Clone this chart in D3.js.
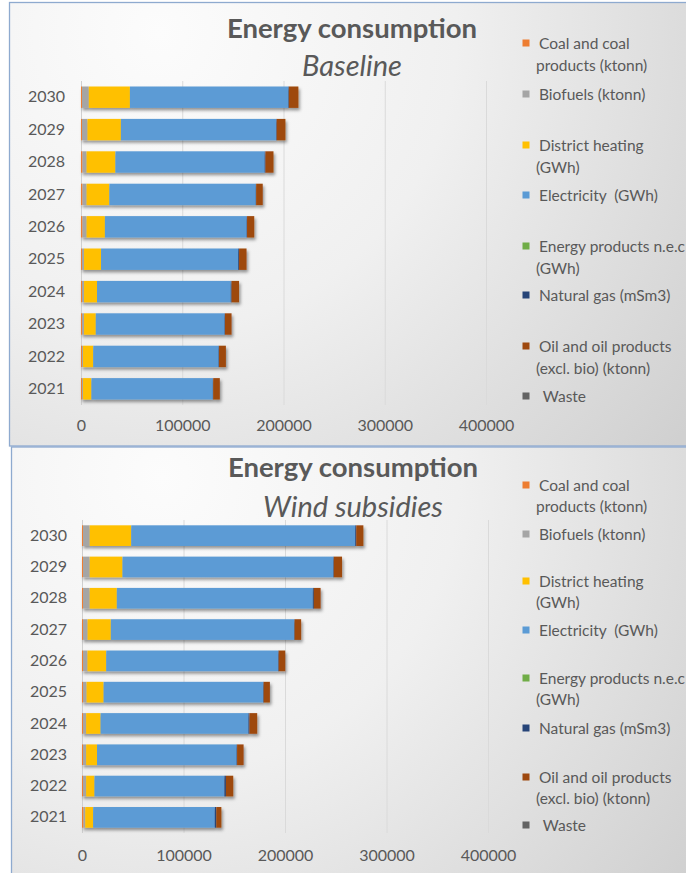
<!DOCTYPE html>
<html>
<head>
<meta charset="utf-8">
<script src="https://cdn.jsdelivr.net/npm/d3@7"></script>
<style>
  body { margin: 0; background: #ffffff; }
  svg { display: block; }
</style>
</head>
<body>
<svg id="chart" width="686" height="873"></svg>
<script>
// Years on the category axis
const years = ["2021", "2022", "2023", "2024", "2025", "2026", "2027", "2028", "2029", "2030"];

// Energy carriers, in stacking order
const seriesNames = [
  "Coal and coal products (ktonn)",
  "Biofuels (ktonn)",
  "District heating (GWh)",
  "Electricity  (GWh)",
  "Energy products n.e.c (GWh)",
  "Natural gas (mSm3)",
  "Oil and oil products (excl. bio) (ktonn)",
  "Waste"
];
const seriesColors = ["#ED7D31", "#A5A5A5", "#FFC000", "#5B9BD5", "#70AD47", "#264478", "#9E480E", "#636363"];

// Legend text, wrapped the way the legend shows it
const legendLines = [
  ["Coal and coal", "products (ktonn)"],
  ["Biofuels (ktonn)"],
  ["District heating", "(GWh)"],
  ["Electricity  (GWh)"],
  ["Energy products n.e.c", "(GWh)"],
  ["Natural gas (mSm3)"],
  ["Oil and oil products", "(excl. bio) (ktonn)"],
  [" Waste"]
];

// Value axis ticks
const xTicks = [0, 100000, 200000, 300000, 400000];

// Baseline scenario, 2021..2030
const baseCoal        = [1000, 1000, 1000, 1000, 1000, 1500, 1500, 1500, 1000, 1000];
const baseBiofuels    = [1000, 1000, 2000, 2000, 2000, 4000, 4000, 4000, 5400, 6700];
const baseDistrict    = [8300, 10100, 11600, 12800, 16800, 18100, 22500, 28500, 33000, 40600];
const baseElectricity = [119900, 123800, 127200, 132100, 135500, 140000, 144600, 147400, 153400, 156500];
const baseEnergyNec   = [0, 0, 0, 0, 0, 0, 0, 0, 0, 0];
const baseNaturalGas  = [400, 400, 400, 800, 800, 400, 400, 800, 500, 500];
const baseOil         = [6500, 6800, 6500, 7400, 7400, 7100, 6500, 7900, 8600, 9400];
const baseWaste       = [0, 0, 0, 0, 0, 0, 0, 0, 0, 0];

// Wind subsidies scenario, 2021..2030
const windCoal        = [1500, 1000, 1000, 1000, 1000, 1000, 1000, 1000, 1000, 1000];
const windBiofuels    = [1700, 3100, 3100, 3100, 3500, 4400, 4500, 6600, 6600, 6600];
const windDistrict    = [7800, 8200, 10700, 14200, 16800, 18500, 22900, 26700, 32300, 40900];
const windElectricity = [119800, 128000, 137500, 145700, 157200, 169400, 180600, 193100, 207700, 220700];
const windEnergyNec   = [0, 0, 0, 0, 0, 0, 0, 0, 0, 0];
const windNaturalGas  = [1500, 1500, 500, 1000, 500, 500, 500, 1000, 500, 1000];
const windOil         = [5000, 7200, 6400, 7600, 6100, 6400, 6400, 6700, 8100, 7000];
const windWaste       = [0, 0, 0, 0, 0, 0, 0, 0, 0, 0];

const baseSeries = [baseCoal, baseBiofuels, baseDistrict, baseElectricity, baseEnergyNec, baseNaturalGas, baseOil, baseWaste];
const windSeries = [windCoal, windBiofuels, windDistrict, windElectricity, windEnergyNec, windNaturalGas, windOil, windWaste];

const FONT = "Lato, 'Open Sans', sans-serif";
const TEXT = "#595959";

const svg = d3.select("#chart");
const defs = svg.append("defs");

// Soft outer shadow under each bar
const shadow = defs.append("filter").attr("id", "barShadow")
  .attr("x", "-10%").attr("y", "-40%").attr("width", "130%").attr("height", "200%");
shadow.append("feDropShadow")
  .attr("dx", 1.5).attr("dy", 2.5).attr("stdDeviation", 1.8)
  .attr("flood-color", "#000").attr("flood-opacity", 0.4);

function makeGradient(id, cx, cy, r) {
  const g = defs.append("radialGradient").attr("id", id)
    .attr("gradientUnits", "userSpaceOnUse")
    .attr("cx", cx).attr("cy", cy).attr("r", r);
  g.append("stop").attr("offset", "0%").attr("stop-color", "#fcfcfc");
  g.append("stop").attr("offset", "45%").attr("stop-color", "#f0f0f0");
  g.append("stop").attr("offset", "100%").attr("stop-color", "#d0d0d0");
}

function drawPanel(cfg) {
  const panel = svg.append("g");
  makeGradient(cfg.gradId, cfg.frame.x + 150, cfg.frame.y + 30, 660);

  panel.append("rect")
    .attr("x", cfg.frame.x).attr("y", cfg.frame.y)
    .attr("width", cfg.frame.w).attr("height", cfg.frame.h)
    .attr("fill", `url(#${cfg.gradId})`)
    .attr("stroke", "#8eaacf").attr("stroke-width", 1.3);

  // Titles
  panel.append("text")
    .attr("x", cfg.titleX).attr("y", cfg.titleY)
    .attr("text-anchor", "middle")
    .attr("font-family", FONT).attr("font-weight", 700).attr("font-size", 27.5)
    .attr("fill", TEXT)
    .text("Energy consumption");
  panel.append("text")
    .attr("x", cfg.titleX).attr("y", cfg.subY)
    .attr("text-anchor", "middle")
    .attr("font-family", FONT).attr("font-style", "italic").attr("font-size", 29)
    .attr("fill", TEXT)
    .text(cfg.subtitle);

  const x = d3.scaleLinear().domain([0, 400000]).range(cfg.xRange);
  const y = d3.scaleBand().domain(years.slice().reverse()).range(cfg.yRange)
    .paddingInner(0.34).paddingOuter(0.17);

  // Gridlines
  panel.append("g").selectAll("line")
    .data(xTicks)
    .join("line")
    .attr("x1", d => x(d) + 0.5).attr("x2", d => x(d) + 0.5)
    .attr("y1", cfg.yRange[0]).attr("y2", cfg.yRange[1])
    .attr("stroke", d => d === 0 ? "#cfcfcf" : "#dadada").attr("stroke-width", 1);

  // Stacked bars
  const rows = years.map((yr, i) => {
    const row = { year: yr };
    seriesNames.forEach((s, k) => { row[s] = cfg.series[k][i]; });
    return row;
  });
  const stacked = d3.stack().keys(seriesNames)(rows);

  const barGroups = panel.append("g").selectAll("g")
    .data(rows)
    .join("g")
    .attr("filter", "url(#barShadow)");

  barGroups.each(function (row, i) {
    const g = d3.select(this);
    stacked.forEach((layer, k) => {
      const seg = layer[i];
      if (seg[1] - seg[0] <= 0) return;
      g.append("rect")
        .attr("x", x(seg[0]))
        .attr("y", y(row.year))
        .attr("width", x(seg[1]) - x(seg[0]))
        .attr("height", y.bandwidth())
        .attr("fill", seriesColors[k]);
    });
  });

  // Category axis
  const yAxis = panel.append("g")
    .attr("transform", `translate(${cfg.xRange[0] - cfg.yLabelGap},0)`)
    .call(d3.axisLeft(y).tickSize(0).tickPadding(0));
  yAxis.select(".domain").remove();
  yAxis.selectAll("text")
    .attr("font-family", FONT).attr("font-size", 16).attr("fill", TEXT);

  // Value axis
  const xAxis = panel.append("g")
    .attr("transform", `translate(0,${cfg.xLabelY})`)
    .call(d3.axisBottom(x).tickValues(xTicks).tickFormat(d3.format("d")).tickSize(0).tickPadding(0));
  xAxis.select(".domain").remove();
  xAxis.selectAll("text")
    .attr("dy", 0).attr("y", 0)
    .attr("font-family", FONT).attr("font-size", 16).attr("fill", TEXT);

  // Legend
  const legend = panel.append("g");
  legendLines.forEach((lines, k) => {
    const by = cfg.legendY[k];
    legend.append("rect")
      .attr("x", 522.5).attr("y", by - 9.5)
      .attr("width", 7).attr("height", 7)
      .attr("fill", seriesColors[k]);
    lines.forEach((ln, j) => {
      legend.append("text")
        .attr("x", j === 0 ? 539 : 536)
        .attr("y", by + j * cfg.legendLine)
        .attr("font-family", FONT).attr("font-size", 15.5).attr("fill", TEXT)
        .attr("xml:space", "preserve")
        .style("white-space", "pre")
        .text(ln);
    });
  });
}

// Wind subsidies panel underneath
drawPanel({
  gradId: "bgWind",
  frame: { x: 11.5, y: 447, w: 720, h: 460 },
  titleX: 353, titleY: 477, subY: 517,
  subtitle: "Wind subsidies",
  xRange: [82, 488], yRange: [520, 833],
  yLabelGap: 15, xLabelY: 861,
  series: windSeries,
  legendY: [491, 540, 587, 636, 684, 734, 783, 831],
  legendLine: 21
});

// Baseline panel on top
drawPanel({
  gradId: "bgBase",
  frame: { x: 9.5, y: 2.5, w: 720, h: 443.5 },
  titleX: 352, titleY: 38, subY: 76,
  subtitle: "Baseline",
  xRange: [81, 486], yRange: [81, 405],
  yLabelGap: 16, xLabelY: 431,
  series: baseSeries,
  legendY: [49, 100, 151, 201, 252, 301, 352, 402],
  legendLine: 22
});
</script>
</body>
</html>
